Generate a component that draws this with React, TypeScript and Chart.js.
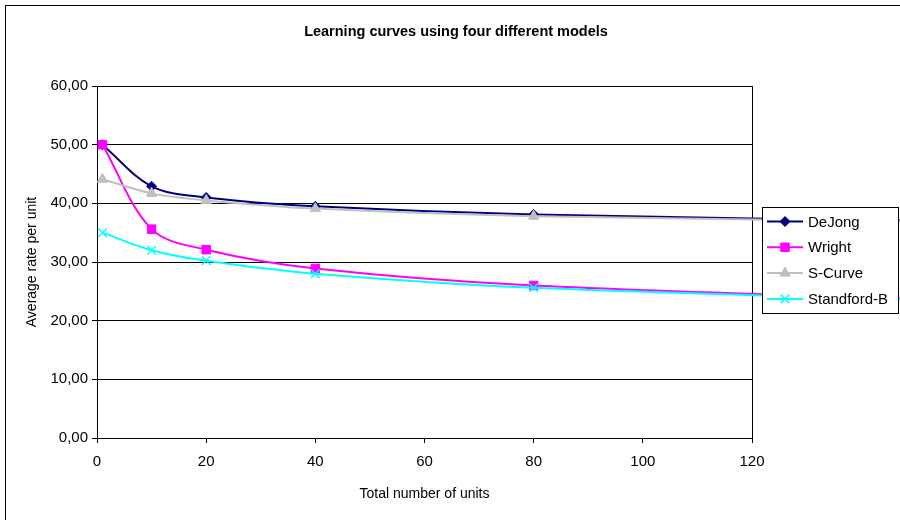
import React, { useEffect, useRef } from 'react';
import { Chart, registerables } from 'chart.js';

Chart.register(...registerables);

// ---- data ----
const units = [1, 10, 20, 40, 80, 160];
const dejong = [50.0, 42.9, 41.0, 39.5, 38.1, 36.9];
const wright = [50.0, 35.6, 32.1, 28.9, 26.0, 23.4];
const sCurve = [44.1, 41.7, 40.5, 39.1, 37.8, 36.8];
const standfordB = [35.0, 32.0, 30.2, 28.0, 25.6, 23.3];

const seriesNames = ['DeJong', 'Wright', 'S-Curve', 'Standford-B'];
const seriesColors = ['#000080', '#FF00FF', '#C0C0C0', '#00FFFF'];
const seriesStyles = ['rectRot', 'rect', 'triangle', 'crossRot'];
const seriesRadius = [5, 6, 6, 6];

const chartTitle = 'Learning curves using four different models';
const xTitle = 'Total number of units';
const yTitle = 'Average rate per unit';

const FONT = "'Liberation Sans', Arial, sans-serif";

function drawMarker(ctx: CanvasRenderingContext2D, style: string, x: number, y: number, r: number, color: string) {
  ctx.save();
  ctx.fillStyle = color;
  ctx.strokeStyle = color;
  ctx.lineWidth = 1;
  ctx.beginPath();
  if (style === 'rectRot') {
    ctx.moveTo(x, y - r);
    ctx.lineTo(x + r, y);
    ctx.lineTo(x, y + r);
    ctx.lineTo(x - r, y);
    ctx.closePath();
    ctx.fill();
    ctx.stroke();
  } else if (style === 'rect') {
    const s = r * Math.SQRT1_2;
    ctx.rect(x - s, y - s, 2 * s, 2 * s);
    ctx.fill();
    ctx.stroke();
  } else if (style === 'triangle') {
    let a = 0;
    ctx.moveTo(x + Math.sin(a) * r, y - Math.cos(a) * r);
    a += (2 * Math.PI) / 3;
    ctx.lineTo(x + Math.sin(a) * r, y - Math.cos(a) * r);
    a += (2 * Math.PI) / 3;
    ctx.lineTo(x + Math.sin(a) * r, y - Math.cos(a) * r);
    ctx.closePath();
    ctx.fill();
    ctx.stroke();
  } else {
    const o = r * Math.SQRT1_2;
    ctx.lineWidth = 1.5;
    ctx.moveTo(x - o, y - o);
    ctx.lineTo(x + o, y + o);
    ctx.moveTo(x + o, y - o);
    ctx.lineTo(x - o, y + o);
    ctx.stroke();
  }
  ctx.restore();
}

const decorPlugin = {
  id: 'decor',
  beforeDatasetsDraw(chart: any) {
    const { ctx, chartArea } = chart;
    ctx.save();
    ctx.strokeStyle = '#000';
    ctx.lineWidth = 1;
    const x = Math.round(chartArea.right) + 0.5;
    ctx.beginPath();
    ctx.moveTo(x, chartArea.top);
    ctx.lineTo(x, chartArea.bottom);
    ctx.stroke();
    ctx.restore();
  },
  afterDraw(chart: any) {
    const { ctx } = chart;
    ctx.save();
    // outer chart border
    ctx.strokeStyle = '#000';
    ctx.lineWidth = 1;
    ctx.strokeRect(5.5, 5.5, 1000, 1000);
    // title
    ctx.fillStyle = '#000';
    ctx.font = `bold 14.5px ${FONT}`;
    ctx.textAlign = 'center';
    ctx.textBaseline = 'middle';
    ctx.fillText(chartTitle, 456, 32);
    // legend box
    const lx = 762, ly = 207, lw = 136, lh = 106;
    ctx.fillStyle = '#fff';
    ctx.fillRect(lx, ly, lw, lh);
    ctx.strokeStyle = '#000';
    ctx.strokeRect(lx + 0.5, ly + 0.5, lw, lh);
    ctx.font = `15px ${FONT}`;
    ctx.textAlign = 'left';
    ctx.textBaseline = 'middle';
    chart.data.datasets.forEach((ds: any, i: number) => {
      const y = 221.5 + i * 25.8;
      ctx.strokeStyle = ds.borderColor;
      ctx.lineWidth = 2;
      ctx.beginPath();
      ctx.moveTo(767, y);
      ctx.lineTo(803, y);
      ctx.stroke();
      drawMarker(ctx, seriesStyles[i], 785, y, seriesRadius[i], seriesColors[i]);
      ctx.fillStyle = '#000';
      ctx.fillText(ds.label, 808, y + 1);
    });
    ctx.restore();
  },
};

export default function App() {
  const canvasRef = useRef<HTMLCanvasElement | null>(null);

  useEffect(() => {
    if (!canvasRef.current) return;
    const allSeries = [dejong, wright, sCurve, standfordB];
    const datasets = allSeries.map((vals, i) => ({
      label: seriesNames[i],
      data: units.map((u, j) => ({ x: u, y: vals[j] })),
      borderColor: seriesColors[i],
      backgroundColor: seriesColors[i],
      borderWidth: 2,
      tension: 0.34,
      clip: false as any,
      order: 4 - i,
      pointStyle: seriesStyles[i] as any,
      pointRadius: units.map((u) => (u <= 120 ? seriesRadius[i] : 0)),
      pointBackgroundColor: seriesColors[i],
      pointBorderColor: seriesColors[i],
      pointBorderWidth: i === 3 ? 1.5 : 1,
    }));

    const chart = new Chart(canvasRef.current, {
      type: 'line',
      data: { datasets },
      plugins: [decorPlugin],
      options: {
        animation: false,
        responsive: false,
        maintainAspectRatio: false,
        layout: { padding: { top: 86, right: 148, left: 0, bottom: 0 } },
        plugins: {
          legend: { display: false },
          title: { display: false },
          tooltip: { enabled: false },
        },
        scales: {
          x: {
            type: 'linear',
            min: 0,
            max: 120,
            ticks: {
              stepSize: 20,
              color: '#000',
              padding: 10,
              font: { family: FONT, size: 15 },
              maxRotation: 0,
            },
            grid: {
              display: true,
              drawOnChartArea: false,
              drawTicks: true,
              tickLength: 5,
              color: '#000',
            },
            border: { display: true, color: '#000', width: 1 },
            title: {
              display: true,
              text: xTitle,
              color: '#000',
              font: { family: FONT, size: 14 },
              padding: { top: 0, bottom: 17 },
            },
            afterFit: (scale: any) => {
              scale.height = 82;
            },
          },
          y: {
            type: 'linear',
            min: 0,
            max: 60,
            ticks: {
              stepSize: 10,
              color: '#000',
              padding: 4,
              font: { family: FONT, size: 15 },
              callback: (v: any) => Number(v).toFixed(2).replace('.', ','),
            },
            grid: {
              display: true,
              drawOnChartArea: true,
              drawTicks: true,
              tickLength: 5,
              color: '#000',
              lineWidth: 1,
            },
            border: { display: true, color: '#000', width: 1 },
            title: {
              display: true,
              text: yTitle,
              color: '#000',
              font: { family: FONT, size: 14 },
              padding: { top: 24, bottom: 0 },
            },
            afterFit: (scale: any) => {
              scale.width = 97;
            },
          },
        },
      },
    });
    return () => chart.destroy();
  }, []);

  return (
    <div style={{ position: 'absolute', left: 0, top: 0, width: 900, height: 520, background: '#fff' }}>
      <canvas ref={canvasRef} width={900} height={520} style={{ display: 'block', width: 900, height: 520 }} />
    </div>
  );
}
